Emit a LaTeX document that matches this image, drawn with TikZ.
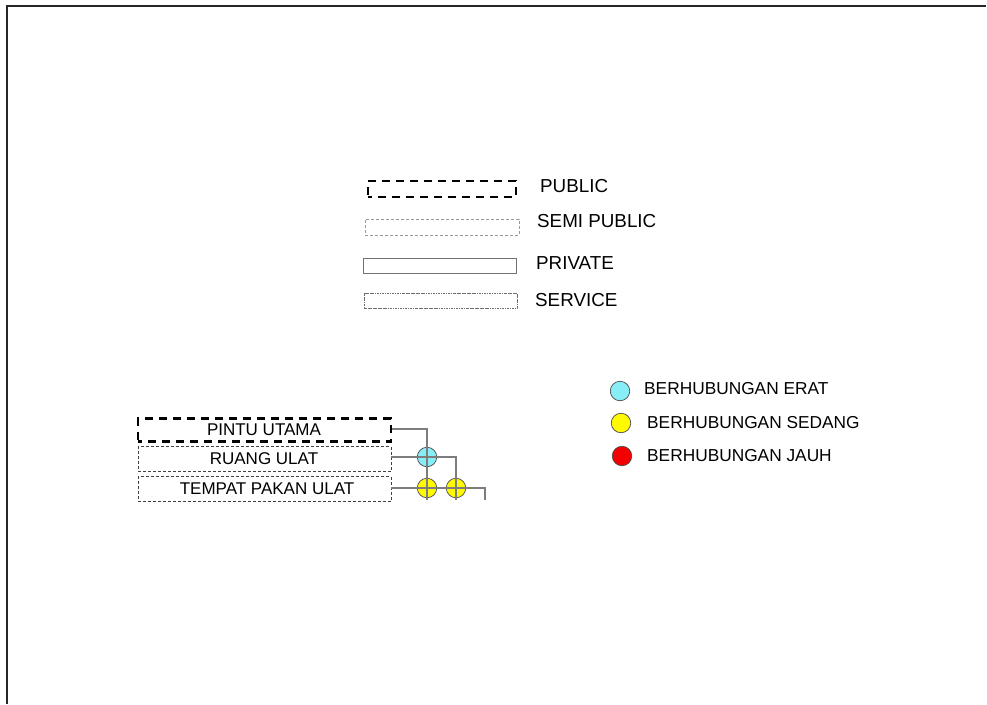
\documentclass[tikz,border=0pt]{standalone}
\usepackage{fontspec}
\setmainfont{Liberation Sans}
\definecolor{eratc}{RGB}{135,238,248}
\definecolor{sedangc}{RGB}{255,250,0}
\definecolor{jauhc}{RGB}{245,0,0}
\definecolor{linec}{RGB}{125,125,125}
\begin{document}
\begin{tikzpicture}[x=1pt,y=-1pt,
  publicbox/.style={draw=black,line width=2.2pt,dash pattern=on 8pt off 6pt,dash phase=4pt,rectangle,inner sep=0pt},
  semibox/.style={draw=gray!80,line width=0.9pt,dash pattern=on 3pt off 2pt,rectangle,inner sep=0pt},
  privatebox/.style={draw=gray!90!black,line width=1pt,rectangle,inner sep=0pt},
  servicebox/.style={draw=gray!85!black,line width=0.9pt,dash pattern=on 2.5pt off 1pt on 0.6pt off 1pt,rectangle,inner sep=0pt},
  roombox/.style={draw=black!75,line width=0.9pt,dash pattern=on 3pt off 2pt,rectangle,inner sep=0pt},
  lbl/.style={anchor=west,inner sep=0pt,font=\fontsize{18.8}{22}\selectfont},
  clbl/.style={anchor=west,inner sep=0pt,font=\fontsize{17.3}{20}\selectfont},
  roomlbl/.style={font=\fontsize{17}{20}\selectfont},
  dot/.style={circle,draw=black!70,line width=0.7pt,minimum size=19.5pt,inner sep=0pt},
  erat/.style={dot,fill=eratc},
  sedang/.style={dot,fill=sedangc},
  jauh/.style={dot,fill=jauhc},
  conn/.style={draw=linec,line width=1.4pt}]
\useasboundingbox (0,0) rectangle (987,704);
\fill[white] (0,0) rectangle (987,704);
% frame
\coordinate (ftl) at (7,6);
\coordinate (ftr) at (986,6);
\coordinate (fbl) at (7,704);
\draw[line width=1.6pt,black!85] (fbl) -- (ftl) -- (ftr);

% legend boxes
\node[publicbox,minimum width=148pt,minimum height=16pt] (lpub) at (442,189) {};
\node[lbl] (tpub) at (540,186) {PUBLIC};
\node[semibox,minimum width=154pt,minimum height=16pt] (lsemi) at (442,227) {};
\node[lbl] (tsemi) at (537,221) {SEMI PUBLIC};
\node[privatebox,minimum width=153pt,minimum height=15pt] (lpriv) at (440,265.5) {};
\node[lbl] (tpriv) at (536,263) {PRIVATE};
\node[servicebox,minimum width=153pt,minimum height=15pt] (lserv) at (440.5,300.5) {};
\node[lbl] (tserv) at (535,300) {SERVICE};

% circle legend
\node[erat] (cerat) at (620,391) {};
\node[clbl] (terat) at (644,389) {BERHUBUNGAN ERAT};
\node[sedang] (csedang) at (621,423) {};
\node[clbl] (tsedang) at (647,423) {BERHUBUNGAN SEDANG};
\node[jauh] (cjauh) at (622,456) {};
\node[clbl] (tjauh) at (647,456) {BERHUBUNGAN JAUH};

% rooms
\node[publicbox,minimum width=253pt,minimum height=23pt] (pintu) at (264.5,430) {};
\node[roomlbl] at (264,430) {PINTU UTAMA};
\node[roombox,minimum width=253pt,minimum height=25pt] (ruang) at (264.5,459) {};
\node[roomlbl] at (264,459) {RUANG ULAT};
\node[roombox,minimum width=253pt,minimum height=25pt] (tempat) at (264.5,489) {};
\node[roomlbl] at (267,489) {TEMPAT PAKAN ULAT};

% relation circles
\node[erat] (e1) at (427,457) {};
\node[sedang] (s1) at (427,488) {};
\node[sedang] (s2) at (456,488) {};

% connectors
\coordinate (j1) at (427,429);
\coordinate (j2) at (456,457);
\coordinate (j3) at (485,488);
\coordinate (b1) at (427,500);
\coordinate (b2) at (456,500);
\coordinate (b3) at (485,500);
\draw[conn] (pintu.east |- j1) -- (j1) -- (e1.center) -- (s1.center) -- (b1);
\draw[conn] (ruang.east |- j2) -- (e1.center) -- (j2) -- (s2.center) -- (b2);
\draw[conn] (tempat.east |- j3) -- (s1.center) -- (s2.center) -- (j3) -- (b3);
\end{tikzpicture}
\end{document}
